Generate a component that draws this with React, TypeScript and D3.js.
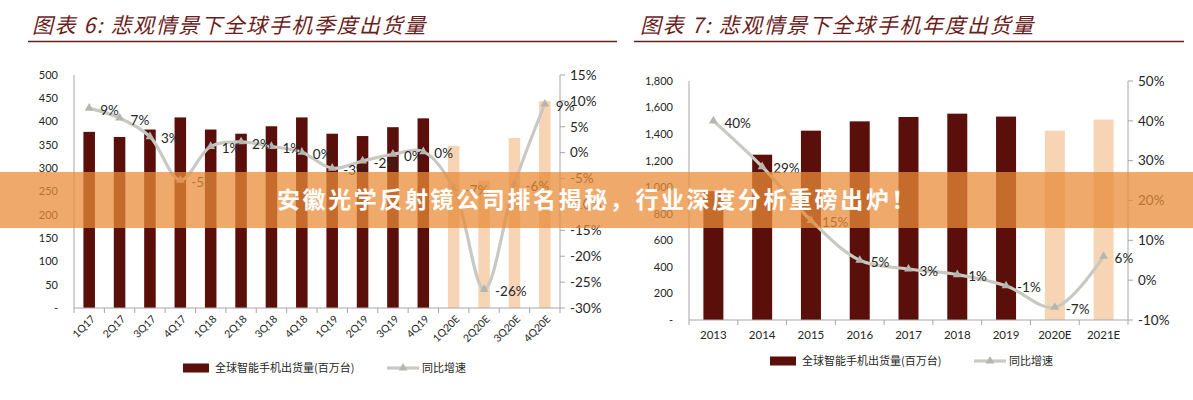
import React from "react";
import * as d3 from "d3";

// chart 6: quarterly shipments (million units) and yoy growth (%)
const quarters = ["1Q17", "2Q17", "3Q17", "4Q17", "1Q18", "2Q18", "3Q18", "4Q18",
  "1Q19", "2Q19", "3Q19", "4Q19", "1Q20E", "2Q20E", "3Q20E", "4Q20E"];
const quarterShipments = [378, 367, 383, 409, 383, 374, 390, 409, 374, 369, 388, 407, 348, 273, 365, 444];
const quarterGrowth = [8.6, 6.7, 3.1, -5.3, 1.2, 2.1, 1.2, 0.1, -3.0, -1.6, -0.3, 0.2, -6.9, -26.4, -6.1, 9.4];
const quarterTicks = [0, 50, 100, 150, 200, 250, 300, 350, 400, 450, 500];
const quarterPctTicks = [-30, -25, -20, -15, -10, -5, 0, 5, 10, 15];

// chart 7: annual shipments and yoy growth
const years = ["2013", "2014", "2015", "2016", "2017", "2018", "2019", "2020E", "2021E"];
const annualShipments = [970, 1245, 1426, 1496, 1529, 1554, 1532, 1426, 1509];
const annualGrowth = [40, 28.5, 15, 5, 2.8, 1.4, -1.4, -6.8, 6];
const annualTicks = [0, 200, 400, 600, 800, 1000, 1200, 1400, 1600, 1800];
const annualPctTicks = [-10, 0, 10, 20, 30, 40, 50];

const legendBar = "全球智能手机出货量(百万台)";
const legendLine = "同比增速";
const banner = "安徽光学反射镜公司排名揭秘，行业深度分析重磅出炉！";

const DARK = "#5b0f0b";
const LIGHT = "#f6d4b4";
const LINE = "#c9c9c3";
const MARK = "#b6b6ae";
const AXIS = "#a6a6a6";
const TEXT = "#262626";
const TITLE = "#6b1d1d";
const NUM_FONT = "Lato, 'Open Sans', sans-serif";
const CJK_FONT = "'Noto Sans CJK SC', sans-serif";

function Panel(props) {
  const { title, cats, bars, growth, ticks, pctTicks, left, right, top, bottom,
    titleX, ruleX0, ruleX1, rotate, legendY, legendX, fmt, padding } = props;

  const x = d3.scaleBand().domain(cats).range([left, right]).paddingInner(padding).paddingOuter(padding / 2);
  const step = x.step();
  const yL = d3.scaleLinear().domain([0, d3.max(ticks)]).range([bottom, top]);
  const yR = d3.scaleLinear().domain([d3.min(pctTicks), d3.max(pctTicks)]).range([bottom, top]);
  const cx = (c) => x(c) + x.bandwidth() / 2;
  const forecast = (c) => c.endsWith("E");

  const line = d3.line()
    .x((d, i) => cx(cats[i]))
    .y((d) => yR(d))
    .curve(d3.curveCatmullRom.alpha(0.5));
  const tri = d3.symbol(d3.symbolTriangle, 34)();

  return (
    <g>
      <text x={titleX} y={33} fontFamily={CJK_FONT} fontStyle="italic" fontSize={21}
        letterSpacing={1.6} fill={TITLE}>{title}</text>
      <line x1={ruleX0} x2={ruleX1} y1={41.5} y2={41.5} stroke={TITLE} strokeWidth={1.3} />

      {/* bars */}
      {cats.map((c, i) => (
        <rect key={c} x={x(c)} width={x.bandwidth()} y={yL(bars[i])} height={bottom - yL(bars[i])}
          fill={forecast(c) ? LIGHT : DARK} />
      ))}

      {/* axes */}
      <line x1={left} x2={left} y1={top} y2={bottom} stroke={AXIS} />
      <line x1={right} x2={right} y1={top} y2={bottom} stroke={AXIS} />
      <line x1={left} x2={right} y1={bottom} y2={bottom} stroke={AXIS} />
      {d3.range(cats.length + 1).map((i) => (
        <line key={i} x1={left + i * step} x2={left + i * step} y1={bottom} y2={bottom + 5} stroke={AXIS} />
      ))}
      {pctTicks.map((t) => (
        <line key={t} x1={right} x2={right + 5} y1={yR(t)} y2={yR(t)} stroke={AXIS} />
      ))}

      {ticks.map((t) => (
        <text key={t} x={left - 16} y={yL(t)} dy="0.35em" textAnchor="end" fontFamily={NUM_FONT}
          fontSize={11} fill={TEXT}>{t === 0 ? "-" : fmt(t)}</text>
      ))}
      {pctTicks.map((t) => (
        <text key={t} x={right + 10} y={yR(t)} dy="0.35em" fontFamily={NUM_FONT}
          fontSize={13.5} fill={TEXT}>{`${t}%`}</text>
      ))}

      {cats.map((c) => rotate ? (
        <text key={c} transform={`translate(${cx(c) + 4},${bottom + 9}) rotate(-45)`} textAnchor="end"
          dy="0.35em" fontFamily={NUM_FONT} fontSize={10.5} fill={TEXT}>{c}</text>
      ) : (
        <text key={c} x={cx(c)} y={bottom + 15} dy="0.35em" textAnchor="middle" fontFamily={NUM_FONT}
          fontSize={11.5} fill={TEXT}>{c}</text>
      ))}

      {/* growth line */}
      <path d={line(growth)} fill="none" stroke={LINE} strokeWidth={3.2} />
      {growth.map((g, i) => (
        <path key={i} d={tri} transform={`translate(${cx(cats[i])},${yR(g)})`} fill={MARK} />
      ))}
      {growth.map((g, i) => (
        <text key={i} x={cx(cats[i]) + 11} y={yR(g) + 2} dy="0.35em" fontFamily={NUM_FONT}
          fontSize={13.5} fill={TEXT}>{`${Math.round(g)}%`}</text>
      ))}

      {/* legend */}
      <rect x={legendX} y={legendY - 4.5} width={26} height={9} fill={DARK} />
      <text x={legendX + 32} y={legendY} dy="0.35em" fontFamily={CJK_FONT} fontSize={11} fill={TEXT}>{legendBar}</text>
      <line x1={legendX + 204} x2={legendX + 236} y1={legendY} y2={legendY} stroke={LINE} strokeWidth={3.2} />
      <path d={tri} transform={`translate(${legendX + 220},${legendY})`} fill={MARK} />
      <text x={legendX + 239} y={legendY} dy="0.35em" fontFamily={CJK_FONT} fontSize={11} fill={TEXT}>{legendLine}</text>
    </g>
  );
}

export default function App() {
  return (
    <svg width={1193} height={400} style={{ position: "absolute", left: 0, top: 0, background: "#fff" }}>
      <Panel title="图表 6: 悲观情景下全球手机季度出货量" cats={quarters} bars={quarterShipments}
        growth={quarterGrowth} ticks={quarterTicks} pctTicks={quarterPctTicks}
        left={74} right={560} top={75} bottom={308} titleX={32} ruleX0={28} ruleX1={617}
        rotate={true} legendX={183} legendY={368} fmt={d3.format("d")} padding={0.62} />
      <Panel title="图表 7: 悲观情景下全球手机年度出货量" cats={years} bars={annualShipments}
        growth={annualGrowth} ticks={annualTicks} pctTicks={annualPctTicks}
        left={689} right={1128} top={81} bottom={320} titleX={640} ruleX0={634} ruleX1={1184}
        rotate={false} legendX={770} legendY={361} fmt={d3.format(",")} padding={0.59} />

      <rect x={0} y={172} width={1193} height={56} fill="rgb(232,140,58)" fillOpacity={0.75} />
      <text x={597} y={200} dy="0.35em" textAnchor="middle" fontFamily={CJK_FONT} fontWeight="bold"
        fontSize={23} letterSpacing={2.6} fill="#fff">{banner}</text>
    </svg>
  );
}
